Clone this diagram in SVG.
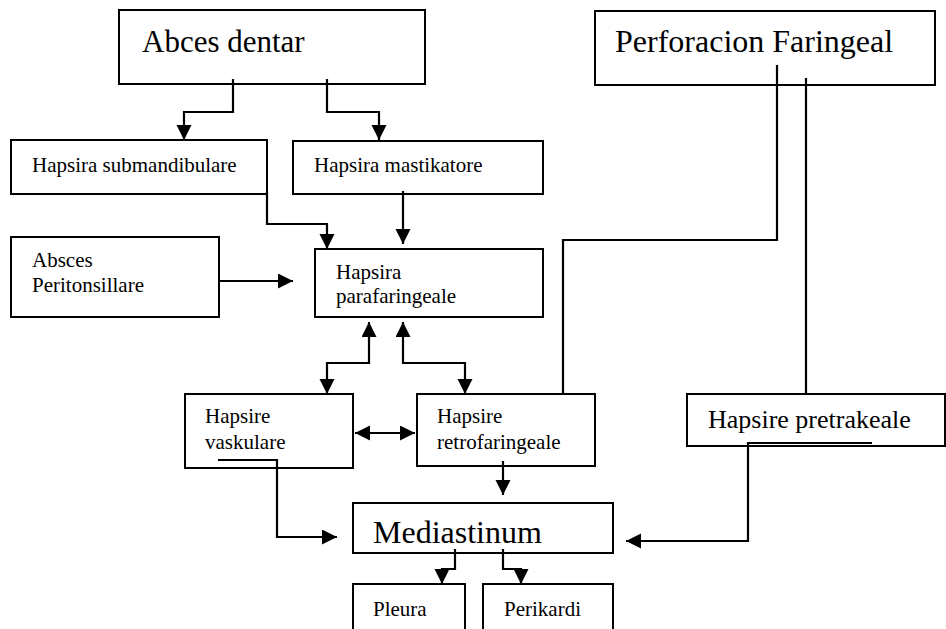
<svg xmlns="http://www.w3.org/2000/svg" width="946" height="629" viewBox="0 0 946 629">
<defs>
<marker id="ah" markerUnits="userSpaceOnUse" markerWidth="16" markerHeight="16" refX="15" refY="7.5" orient="auto-start-reverse" viewBox="0 0 16 16">
<path d="M0,0 L15,7.5 L0,15 z" fill="#000"/>
</marker>
<style>
.box{fill:#fff;stroke:#000;stroke-width:2}
.ln{fill:none;stroke:#000;stroke-width:2.2}
.ar{fill:none;stroke:#000;stroke-width:2.2;marker-end:url(#ah)}
.ar2{fill:none;stroke:#000;stroke-width:2.2;marker-start:url(#ah);marker-end:url(#ah)}
.s{font-size:21px}
.b{font-size:32px}
.m{font-size:26px}
</style>
</defs>
<rect width="946" height="629" fill="#fff"/>
<g font-family="Liberation Serif, Times New Roman, serif" fill="#000">
<g id="abces-dentar"><rect class="box" x="119" y="10" width="306" height="74"/><text class="b" x="142" y="52" style="font-size:31px">Abces dentar</text></g>
<g id="perforacion"><rect class="box" x="595" y="11" width="340" height="74"/><text class="b" x="615" y="52">Perforacion Faringeal</text></g>
<g id="submandibulare"><rect class="box" x="11" y="140" width="256" height="54"/><text class="s" x="32" y="172">Hapsira submandibulare</text></g>
<g id="mastikatore"><rect class="box" x="293" y="141" width="250" height="53"/><text class="s" x="314" y="172">Hapsira mastikatore</text></g>
<g id="peritonsillare"><rect class="box" x="11" y="237" width="208" height="80"/><text class="s" x="32" y="267">Absces</text><text class="s" x="32" y="292">Peritonsillare</text></g>
<g id="parafaringeale"><rect class="box" x="315" y="249" width="228" height="68"/><text class="s" x="336" y="279">Hapsira</text><text class="s" x="336" y="303">parafaringeale</text></g>
<g id="vaskulare"><rect class="box" x="185" y="394" width="168" height="74"/><text class="s" x="205" y="423">Hapsire</text><text class="s" x="205" y="449">vaskulare</text></g>
<g id="retrofaringeale"><rect class="box" x="417" y="394" width="178" height="72"/><text class="s" x="437" y="423">Hapsire</text><text class="s" x="437" y="449">retrofaringeale</text></g>
<g id="pretrakeale"><rect class="box" x="687" y="394" width="258" height="52"/><text class="m" x="708" y="428">Hapsire pretrakeale</text></g>
<g id="mediastinum"><rect class="box" x="353" y="503" width="260" height="50"/><text class="b" x="373" y="543">Mediastinum</text></g>
<g id="pleura"><rect class="box" x="353" y="584" width="112" height="70"/><text class="s" x="373" y="616">Pleura</text></g>
<g id="perikardi"><rect class="box" x="483" y="584" width="130" height="70"/><text class="s" x="504" y="616">Perikardi</text></g>
</g>
<g id="connectors">
<path class="ar" d="M233,79 V112 H184 V140"/>
<path class="ar" d="M327,79 V112 H379 V140"/>
<path class="ar" d="M267,192 V224 H327 V249"/>
<path class="ar" d="M403,191 V244"/>
<path class="ar" d="M219,281 H293"/>
<path class="ar2" d="M369,322 V363 H327 V394"/>
<path class="ar2" d="M403,322 V363 H465 V394"/>
<path class="ar2" d="M355,433 H415"/>
<path class="ln" d="M777,65 V240 H563 V394"/>
<path class="ln" d="M806,78 V394"/>
<path class="ar" d="M218,460 H277 V537 H337"/>
<path class="ar" d="M503,461 V495"/>
<path class="ar" d="M872,443 H748 V541 H626"/>
<path class="ar" d="M455,549 V569 H442 V584"/>
<path class="ar" d="M503,549 V569 H521 V584"/>
</g>
</svg>
